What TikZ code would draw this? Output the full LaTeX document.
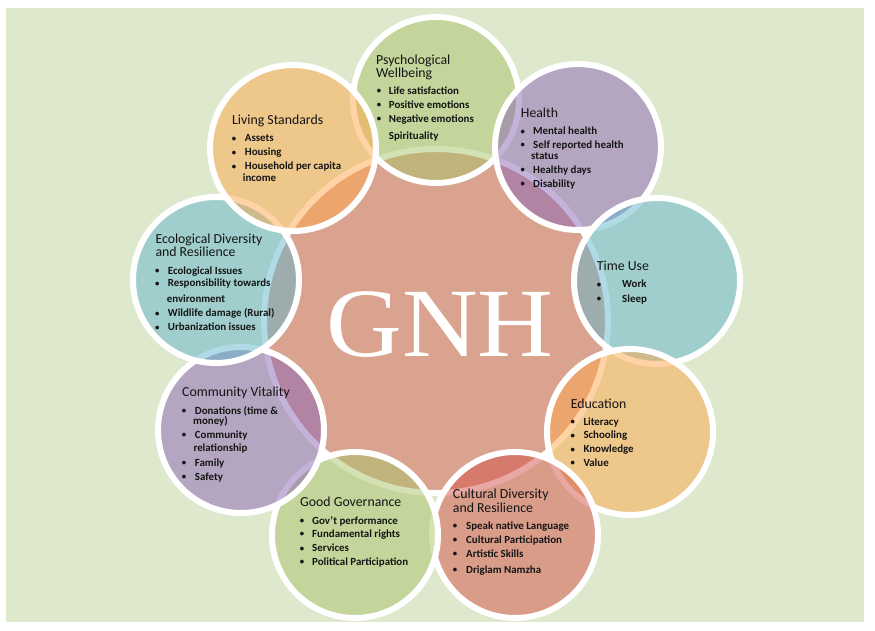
\documentclass[tikz,border=0pt]{standalone}
\usepackage{fontspec}
\setmainfont{Carlito}
\newfontfamily\gnhfont{Liberation Serif}
\definecolor{bgc}{RGB}{222,232,204}
\definecolor{cen}{RGB}{217,163,143}
\definecolor{grn}{RGB}{170,196,106}
\definecolor{prp}{RGB}{140,102,184}
\definecolor{tea}{RGB}{98,182,204}
\definecolor{org}{RGB}{255,168,76}
\definecolor{red}{RGB}{212,82,72}
\definecolor{ink}{RGB}{20,20,20}
\newcommand\dotb{\raisebox{0.5pt}{\scalebox{0.8}{\textbullet}}}
\newcommand\bitem[5]{\node[bul] (#1d) at (#2,#4) {\dotb};\node[itm] (#1) at (#3,#4) {#5};}
\newcommand\litem[4]{\node[itm] (#1) at (#2,#3) {#4};}
\newcommand\tline[4]{\node[ttl] (#1) at (#2,#3) {#4};}
\begin{document}
\begin{tikzpicture}[x=1pt,y=-1pt,
  sat/.style={circle, minimum size=166pt, inner sep=0pt, fill opacity=0.5, draw=white, draw opacity=1, line width=6pt},
  ttl/.style={anchor=base west, inner sep=0pt, text=ink, font=\fontsize{13.8}{13.8}\selectfont},
  itm/.style={anchor=base west, inner sep=0pt, text=ink, font=\bfseries\fontsize{10.9}{12}\selectfont},
  bul/.style={anchor=base, inner sep=0pt, text=ink, font=\bfseries\fontsize{10.9}{12}\selectfont}]
\useasboundingbox (0,0) rectangle (875,631);
\fill[white] (0,0) rectangle (875,631);
\fill[bgc] (6,8) rectangle (864,622);
% centre
\node[circle, minimum size=344pt, inner sep=0pt, fill=cen, draw=white, line width=6pt] (core) at (436,321) {};
% satellites
\node[sat, fill=grn] (psy) at (436,100) {};
\node[sat, fill=prp] (hea) at (578,147) {};
\node[sat, fill=tea] (tim) at (657,281) {};
\node[sat, fill=org] (edu) at (630,432) {};
\node[sat, fill=red] (cul) at (515,535) {};
\node[sat, fill=grn] (gov) at (355,535) {};
\node[sat, fill=prp] (com) at (241,430) {};
\node[sat, fill=tea] (eco) at (216,280) {};
\node[sat, fill=org] (liv) at (293,148) {};
% GNH
\node[anchor=base, inner sep=0pt, text=white, font=\gnhfont\fontsize{98}{98}\selectfont] (gnh) at (440,356) {\scalebox{1.07}[1]{GNH}};
% Psychological Wellbeing
\tline{psyT}{376}{65}{Psychological}
\tline{psyU}{376}{77.7}{Wellbeing}
\bitem{psyA}{379}{388.7}{94.3}{Life satisfaction}
\bitem{psyB}{379}{388.7}{108.3}{Positive emotions}
\bitem{psyC}{379}{388.7}{122.3}{Negative emotions}
\litem{psyD}{388.7}{139.3}{Spirituality}
% Health
\tline{heaT}{520.7}{117.3}{Health}
\bitem{heaA}{522.7}{533}{135}{Mental health}
\bitem{heaB}{522.7}{533}{148.3}{Self reported health}
\litem{heaC}{531}{159.3}{status}
\bitem{heaD}{522.7}{533}{173.3}{Healthy days}
\bitem{heaE}{522.7}{533}{187.3}{Disability}
% Living Standards
\tline{livT}{232}{125}{Living Standards}
\bitem{livA}{234}{244.7}{141.7}{Assets}
\bitem{livB}{234}{244.7}{155.7}{Housing}
\bitem{livC}{234}{244.7}{170}{Household per capita}
\litem{livD}{242.7}{181.7}{income}
% Ecological
\tline{ecoT}{155.3}{243.3}{Ecological Diversity}
\tline{ecoU}{155.3}{256}{and Resilience}
\bitem{ecoA}{157.3}{167.7}{274}{Ecological Issues}
\bitem{ecoB}{157.3}{167.7}{286.7}{Responsibility towards}
\litem{ecoC}{166.7}{302.3}{environment}
\bitem{ecoD}{157.3}{167.7}{316.7}{Wildlife damage (Rural)}
\bitem{ecoE}{157.3}{167.7}{330.7}{Urbanization issues}
% Time Use
\tline{timT}{596.7}{270.7}{Time Use}
\bitem{timA}{599}{622}{287.7}{Work}
\bitem{timB}{599}{622}{302}{Sleep}
% Community Vitality
\tline{comT}{182}{396}{Community Vitality}
\bitem{comA}{184}{194.7}{414}{Donations (time \&}
\litem{comB}{193}{424}{money)}
\bitem{comC}{184}{194.7}{438.3}{Community}
\litem{comD}{193.3}{451.7}{relationship}
\bitem{comE}{184}{194.7}{466}{Family}
\bitem{comF}{184}{194.7}{480}{Safety}
% Education
\tline{eduT}{570.7}{408.3}{Education}
\bitem{eduA}{572.7}{583.3}{425}{Literacy}
\bitem{eduB}{572.7}{583.3}{438.7}{Schooling}
\bitem{eduC}{572.7}{583.3}{452.7}{Knowledge}
\bitem{eduD}{572.7}{583.3}{466}{Value}
% Good Governance
\tline{govT}{300}{506.7}{Good Governance}
\bitem{govA}{302}{312}{524.3}{Gov’t performance}
\bitem{govB}{302}{312}{537.3}{Fundamental rights}
\bitem{govC}{302}{312}{551.7}{Services}
\bitem{govD}{302}{312}{565.3}{Political Participation}
% Cultural Diversity
\tline{culT}{452.7}{498.3}{Cultural Diversity}
\tline{culU}{452.7}{512.7}{and Resilience}
\bitem{culA}{455}{466}{529.3}{Speak native Language}
\bitem{culB}{455}{466}{543.3}{Cultural Participation}
\bitem{culC}{455}{466}{557.3}{Artistic Skills}
\bitem{culD}{455}{466}{573.3}{Driglam Namzha}
\end{tikzpicture}
\end{document}
